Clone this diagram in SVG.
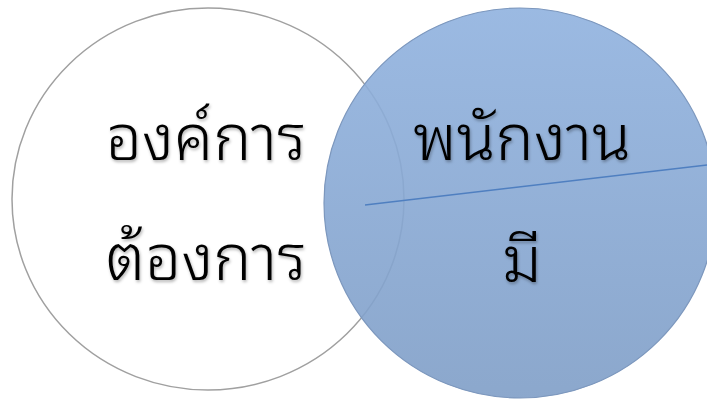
<svg xmlns="http://www.w3.org/2000/svg" width="707" height="402" viewBox="0 0 707 402">
<defs>
<linearGradient id="blueFill" x1="0" y1="0" x2="0" y2="1">
<stop offset="0" stop-color="#90b2df"/>
<stop offset="1" stop-color="#7f9ec7"/>
</linearGradient>
<filter id="shadow" x="-10%" y="-10%" width="120%" height="130%">
<feDropShadow dx="1" dy="2" stdDeviation="1.5" flood-color="#000" flood-opacity="0.3"/>
</filter>
</defs>
<style>
.lbl { font-family: "Noto Sans Thai Looped", "Noto Sans Thai", "Noto Sans", "DejaVu Sans", sans-serif; font-size: 64px; font-weight: 300; fill: #000; text-anchor: middle; }
</style>
<rect width="707" height="402" fill="#fff"/>
<g id="node-organization">
<ellipse cx="208" cy="199" rx="196" ry="191" fill="#fff" stroke="#a0a0a0" stroke-width="1.5"/>
</g>
<g id="node-employee">
<ellipse cx="520" cy="203" rx="196" ry="195" fill="url(#blueFill)" fill-opacity="0.9" stroke="#7c97bd" stroke-width="1.2"/>
</g>
<g id="connectors">
<line x1="365" y1="205" x2="707" y2="165" stroke="#4f7fc0" stroke-width="1.5"/>
</g>
<g id="labels" filter="url(#shadow)">
<text class="lbl" x="206" y="160">องค์การ</text>
<text class="lbl" x="206" y="280">ต้องการ</text>
<text class="lbl" x="522" y="160">พนักงาน</text>
<text class="lbl" x="522" y="282">มี</text>
</g>
</svg>
